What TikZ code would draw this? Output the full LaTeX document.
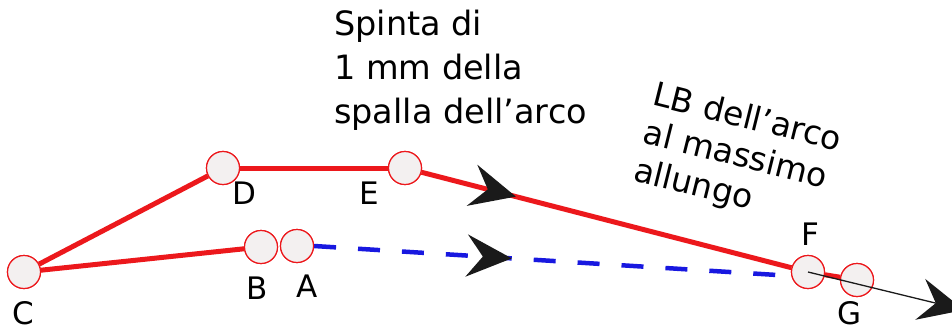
\documentclass[tikz,border=0pt]{standalone}
\usepackage{fontspec}
\setmainfont{DejaVu Sans}
\usetikzlibrary{arrows.meta,decorations.markings}
\definecolor{lred}{RGB}{236,24,28}
\definecolor{lblue}{RGB}{24,24,224}
\definecolor{jfill}{RGB}{243,240,240}
\definecolor{tipc}{RGB}{26,26,26}
\tikzset{bigtip/.tip={Stealth[length=45pt,width=42pt,inset=16pt,color=tipc]}}
\begin{document}
\begin{tikzpicture}[x=1pt,y=-1pt,
  joint/.style={circle,draw=lred,line width=1.2pt,fill=jfill,minimum size=33pt,inner sep=0pt},
  bar/.style={draw=lred,line width=5pt},
  lab/.style={font=\fontsize{31}{36}\selectfont,inner sep=0pt},
  midtip/.style={postaction={decorate},decoration={markings,mark=at position #1 with {\arrow{bigtip}}}}]
\useasboundingbox (0,0) rectangle (952,329);
\clip (0,0) rectangle (952,329);
% joints
\node[joint] (C) at (24,272) {};
\node[joint] (D) at (223,168) {};
\node[joint] (E) at (405,168) {};
\node[joint] (B) at (261,247) {};
\node[joint] (A) at (297,246) {};
\node[joint] (F) at (808,272) {};
\node[joint] (G) at (857,280) {};
\coordinate (Gend) at (964,310);
% members
\draw[lblue,line width=4.5pt,dash pattern=on 22pt off 22pt,midtip=0.376] (A.east) -- (G);
\draw[bar] (C) -- (D);
\draw[bar] (D) -- (E);
\draw[bar,midtip=0.255] (E) -- (F);
\draw[bar] (C) -- (B);
\draw[bar] (F) -- (G);
% redraw joints on top
\foreach \p in {(24,272),(223,168),(405,168),(261,247),(297,246),(808,272),(857,280)}
  {\path \p node[joint] {};}
\draw[tipc,line width=1.3pt,-{Stealth[length=45pt,width=42pt,inset=16pt]}] (F.center) -- (Gend);
% labels
\node[lab] (lC) at (23,313) {C};
\node[lab] (lD) at (244,193) {D};
\node[lab] (lE) at (369,193) {E};
\node[lab] (lB) at (257,288) {B};
\node[lab] (lA) at (307,286) {A};
\node[lab] (lF) at (810,234) {F};
\node[lab] (lG) at (849,313) {G};
\node[anchor=north west,align=left,inner sep=0pt,font=\fontsize{33.5}{44}\selectfont] (sp) at (334,10) {Spinta di\\1 mm della\\spalla dell'arco};
\node[anchor=north west,align=left,inner sep=0pt,rotate=-14,font=\fontsize{33}{39}\selectfont] (lb) at (657,80) {LB dell'arco\\al massimo\\allungo};
\end{tikzpicture}
\end{document}
